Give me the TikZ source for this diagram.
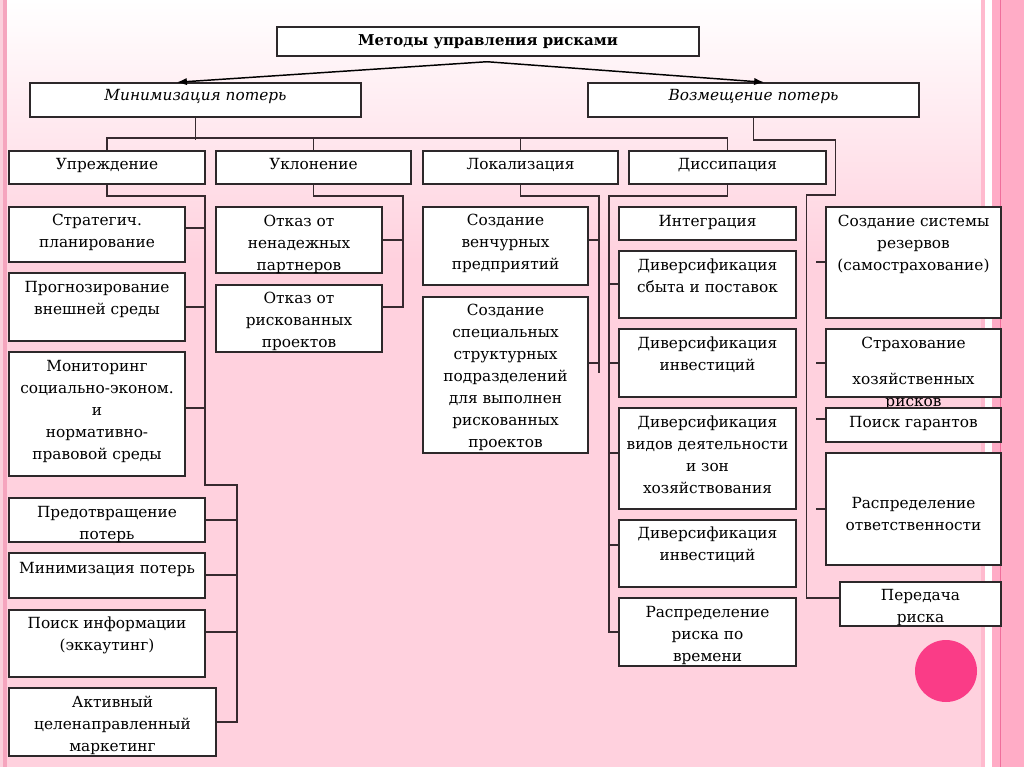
\documentclass[tikz,border=0pt]{standalone}
\usepackage{fontspec}
\setmainfont{DejaVu Serif}
\usetikzlibrary{calc,arrows.meta}
\definecolor{bgpink}{RGB}{255,209,222}
\definecolor{stripeA}{RGB}{255,186,206}
\definecolor{stripeB}{RGB}{255,172,198}
\definecolor{stripeC}{RGB}{240,110,155}
\definecolor{stripeL}{RGB}{245,165,190}
\definecolor{stripeL2}{RGB}{251,208,220}
\definecolor{boxline}{RGB}{45,40,42}
\definecolor{lncol}{RGB}{55,42,47}
\definecolor{dotcol}{RGB}{250,60,135}
\newcommand\bx[7]{%
  \node[box, minimum width={(#4-#2)*0.75pt}, minimum height={(#5-#3)*0.75pt}] (#1) at ({(#2+#4)/2},{(#3+#5)/2}) {};
  \node[txt, anchor=north] (#1-t) at ({(#2+#4)/2},{#6-10.4}) {\strut #7};}
\begin{document}
\begin{tikzpicture}[x=0.75pt,y=-0.75pt,
  box/.style={draw=boxline, line width=1.1pt, fill=white, inner sep=0pt},
  txt/.style={align=center, inner sep=0pt, font=\fontsize{11.5}{16.5}\selectfont},
  ln/.style={draw=lncol, line width=1.2pt},
  arr/.style={draw=black, line width=1.1pt, -{Latex[length=7.5pt,width=5.5pt]}}]
\useasboundingbox (0,0) rectangle (1024,767);
% background
\fill[bgpink] (0,0) rectangle (1024,767);
\shade[top color=white, bottom color=bgpink] (0,0) rectangle (1024,260);
\fill[stripeL2] (0,0) rectangle (3,767);
\fill[stripeL] (3,0) rectangle (7,767);
\fill[stripeA] (981,0) rectangle (985,767);
\fill[white] (985,0) rectangle (992,767);
\fill[stripeB] (992,0) rectangle (1024,767);
\fill[stripeC] (999.5,0) rectangle (1001,767);
\node[circle, fill=dotcol, inner sep=0pt, minimum size=46.5pt] (dot) at (946,671) {};

% top level
\node[box, minimum width={422*0.75pt}, minimum height={29*0.75pt}] (top) at (488,41.5) {};
\node[inner sep=0pt, font=\fontsize{11.2}{13}\selectfont\bfseries] (top-t) at (488,41.5) {Методы управления рисками};
\node[box, minimum width={331*0.75pt}, minimum height={34*0.75pt}] (min) at (195.5,100) {};
\node[inner sep=0pt, font=\fontsize{11.5}{14}\selectfont\itshape] (min-t) at (195.5,97) {Минимизация потерь};
\node[box, minimum width={331*0.75pt}, minimum height={34*0.75pt}] (voz) at (753.5,100) {};
\node[inner sep=0pt, font=\fontsize{11.5}{14}\selectfont\itshape] (voz-t) at (753.5,97) {Возмещение потерь};

\coordinate (apex) at ($(top.south)+(-1,5)$);
\draw[arr] (apex) -- ($(min.north west)!0.444!(min.north east)$);
\draw[arr] (apex) -- ($(voz.north west)!0.532!(voz.north east)$);

% second level
\bx{upr}{9}{151}{205}{184}{164}{Упреждение}
\bx{ukl}{216}{151}{411}{184}{164}{Уклонение}
\bx{lok}{423}{151}{618}{184}{164}{Локализация}
\bx{dis}{629}{151}{826}{184}{164}{Диссипация}

% Упреждение
\bx{str}{9}{207}{185}{262}{220}{Стратегич.\\планирование}
\bx{prog}{9}{273}{185}{341}{287}{Прогнозирование\\внешней среды}
\bx{mon}{9}{352}{185}{476}{366}{Мониторинг\\социально-эконом.\\и\\нормативно-\\правовой среды}
\bx{pred}{9}{498}{205}{542}{512}{Предотвращение\\потерь}
\bx{minp}{9}{553}{205}{598}{568}{Минимизация потерь}
\bx{poi}{9}{610}{205}{677}{623}{Поиск информации\\(эккаутинг)}
\bx{akt}{9}{688}{216}{756}{702}{Активный\\целенаправленный\\маркетинг}

% Уклонение
\bx{otk1}{216}{207}{382}{273}{221}{Отказ от\\ненадежных\\партнеров}
\bx{otk2}{216}{285}{382}{352}{298}{Отказ от\\рискованных\\проектов}

% Локализация
\bx{ven}{423}{207}{588}{285}{220}{Создание\\венчурных\\предприятий}
\bx{spec}{423}{297}{588}{453}{310}{Создание\\специальных\\структурных\\подразделений\\для выполнен\\рискованных\\проектов}

% Диссипация
\bx{int}{619}{207}{796}{240}{221}{Интеграция}
\bx{sbyt}{619}{251}{796}{318}{265}{Диверсификация\\сбыта и поставок}
\bx{inv}{619}{329}{796}{397}{343}{Диверсификация\\инвестиций}
\bx{vid}{619}{408}{796}{509}{422}{Диверсификация\\видов деятельности\\и зон\\хозяйствования}
\bx{inv2}{619}{520}{796}{587}{533}{Диверсификация\\инвестиций}
\bx{rasp}{619}{598}{796}{666}{612}{Распределение\\риска по\\времени}

% Возмещение
\bx{rez}{826}{207}{1001}{318}{221}{Создание системы\\резервов\\(самострахование)}
\bx{strakh}{826}{329}{1001}{397}{343}{Страхование\\[11pt]хозяйственных\\рисков}
\bx{gar}{826}{408}{1001}{442}{422}{Поиск гарантов}
\bx{otv}{826}{453}{1001}{565}{503}{Распределение\\ответственности}
\bx{per}{840}{582}{1001}{626}{595}{Передача\\риска}

% connectors
\draw[ln] (min.south) -- ++(0,22);
\draw[ln] (upr.north) |- ($(dis.north)+(0,-12)$) -- (dis.north);
\draw[ln] (ukl.north) -- ++(0,-12);
\draw[ln] (lok.north) -- ++(0,-12);
\draw[ln] (voz.south) -- ++(0,22) -- ++(82,0) -- ++(0,55) -- ++(-29,0) |- ($(per.west)+(0,-6)$);
\draw[ln] ([yshift=0.375pt]rez.west) -- ++(-9,0);
\draw[ln] (strakh.west) -- ++(-9,0);
\draw[ln] ([yshift=4.5pt]gar.west) -- ++(-9,0);
\draw[ln] (otv.west) -- ++(-9,0);

\coordinate (ubend) at (205,485);
\draw[ln] (upr.south) -- ++(0,11) -| (ubend) -| ($(akt.east)+(20,0)$) -- (akt.east);
\draw[ln] ([yshift=4.875pt]str.east) -- ++(20,0);
\draw[ln] (prog.east) -- ++(20,0);
\draw[ln] ([yshift=4.5pt]mon.east) -- ++(20,0);
\draw[ln] (pred.east) -- ++(31,0);
\draw[ln] ([yshift=0.375pt]minp.east) -- ++(31,0);
\draw[ln] ([yshift=8.625pt]poi.east) -- ++(31,0);

\draw[ln] (ukl.south) -- ++(0,11) -| ($(otk2.east)+(20,-11.5)$) -- ([yshift=8.625pt]otk2.east);
\draw[ln] (otk1.east) -- ++(20,0);

\coordinate (lokend) at (599,373);
\draw[ln] (lok.south) -- ++(0,11) -| (lokend);
\draw[ln] ([yshift=4.5pt]ven.east) -- ++(11,0);
\draw[ln] ([yshift=9pt]spec.east) -- ++(11,0);

\draw[ln] (dis.south) -- ++(0,11) -| ($(rasp.west)+(-9,0)$) -- (rasp.west);
\draw[ln] ([yshift=0.375pt]sbyt.west) -- ++(-9,0);
\draw[ln] (inv.west) -- ++(-9,0);
\draw[ln] ([yshift=4.125pt]vid.west) -- ++(-9,0);
\draw[ln] ([yshift=6.375pt]inv2.west) -- ++(-9,0);
\end{tikzpicture}
\end{document}
